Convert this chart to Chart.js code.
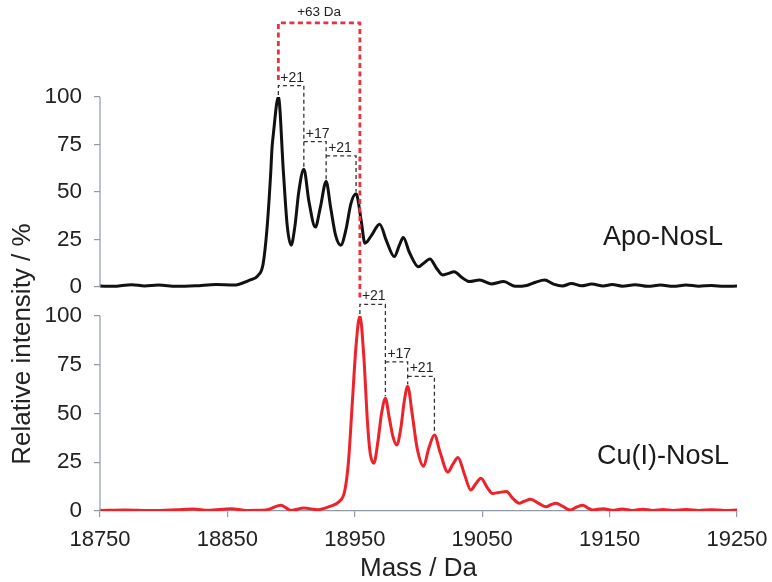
<!DOCTYPE html>
<html><head><meta charset="utf-8">
<script src="https://cdn.jsdelivr.net/npm/chart.js@4.4.0/dist/chart.umd.min.js"></script>
<style>html,body{margin:0;padding:0;background:#fff}canvas{display:block}</style>
</head><body>
<canvas id="c" width="772" height="582"></canvas>
<script>
// ---- data ----
const massApo = [18750,18760,18775,18785,18796,18810,18825,18841,18855,18867,18874,18878,18881,18884,18885,18886,18890,18894,18897,18900,18903,18906,18910,18914,18919,18923,18927.5,18931,18935,18939,18943,18947,18951,18955,18958,18963,18969.5,18975,18981,18985,18988,18993,19000,19004,19009,19014,19019,19023,19028,19034,19040,19048,19057,19067,19076,19085,19092,19099,19106,19113,19120,19128,19136,19145,19152,19160,19170,19180,19190,19200,19210,19220,19230,19240,19250];
const intApo  = [0.5,0.3,1.2,0.5,1.0,0.3,0.6,1.3,1.0,3.5,6,12,30,60,73,80,100,60,32,22,32,50,62,45,31.5,42,55.5,42,27,22,30,44,49,35,23,27,33,24,16,22,26,18,10.6,12.5,14.7,10,6.3,7,8,5,2.8,3.7,1.6,2.8,0.3,0.8,2.5,3.6,1.5,0.5,1.8,0.6,1.5,0.5,1.3,0.4,1.2,0.3,1.0,0.3,1.0,0.4,0.8,0.3,0.5];
const massCu  = [18750,18770,18790,18810,18823,18835,18853,18865,18880,18892,18900,18910,18921,18931,18938,18942,18945,18948,18951,18954,18957,18960,18962,18965,18968,18971,18974,18977,18980,18983,18986,18989,18991.5,18995,18999,19004,19008,19012.5,19017,19023,19027,19031,19036,19041,19045,19049,19054,19058,19063,19069,19074,19079,19083,19088,19094,19100,19104,19108,19113,19119,19124,19129,19133,19137,19145,19152,19160,19168,19176,19184,19192,19200,19210,19220,19230,19240,19250];
const intCu   = [0.3,0.5,0.2,0.6,1.0,0.4,1.2,0.3,0.5,3.0,0.3,1.5,0.7,2.5,5,10,25,55,85,100,80,45,30,24.5,35,50,57.8,48,38,33.8,42,57,64,50,32,23,32,39,30,20,24,27.5,19,10.8,14,16.8,12,9,9.5,10,6.5,4,5,6,4,2.2,3.2,4,2.5,0.5,2,3,1.5,0.5,1.2,0.4,1.0,0.3,0.9,0.3,0.8,0.3,0.8,0.3,0.7,0.3,0.5];

const xTickValues = [18750,18850,18950,19050,19150,19250];
const yTickValues = [0,25,50,75,100];

const apoPeakMass = [18890, 18910, 18927.5, 18951];
const apoPeakInt  = [100, 62, 55.5, 49];
const cuPeakMass  = [18954, 18974, 18991.5, 19012.5];
const cuPeakInt   = [100, 57.8, 64, 39];
const shiftLabels = ['+21', '+17', '+21'];
const bracketLevels = [106, 76.5, 69];
const totalShiftLabel = '+63 Da';
const totalShiftLevel = 139;
const totalShiftEndLevel = 109;

const seriesNames = ['Apo-NosL', 'Cu(I)-NosL'];
const seriesNameMass = 19192;
const seriesNameLevel = [26, 28];
const xTitle = 'Mass / Da';
const yTitle = 'Relative intensity / %';

// ---- chart ----
const FONT = "'Liberation Sans', Arial, Helvetica, sans-serif";
Chart.defaults.font.family = FONT;
const AXIS = '#8e9ba6';
const TXT = '#222222';

const toPts = (xs, ys) => xs.map((m, i) => ({x: m, y: ys[i]}));

const annot = {
  id: 'annot',
  afterDatasetsDraw(chart) {
    const {ctx, scales} = chart;
    const x = scales.x, yT = scales.yTop, yB = scales.yBot;
    const left = chart.chartArea.left;
    ctx.save();
    // y axis lines (0..100) for each panel
    ctx.strokeStyle = AXIS; ctx.lineWidth = 1.2; ctx.setLineDash([]);
    [yT, yB].forEach(s => {
      ctx.beginPath();
      ctx.moveTo(left, s.getPixelForValue(0));
      ctx.lineTo(left, s.getPixelForValue(100));
      ctx.stroke();
    });
    // black dashed brackets
    function brackets(ys, pm, pi) {
      ctx.strokeStyle = '#333'; ctx.lineWidth = 1.3; ctx.setLineDash([4, 3]);
      ctx.fillStyle = TXT; ctx.font = '14px ' + FONT; ctx.textAlign = 'left'; ctx.textBaseline = 'alphabetic';
      for (let i = 0; i < pm.length - 1; i++) {
        const x1 = x.getPixelForValue(pm[i]), x2 = x.getPixelForValue(pm[i + 1]);
        const yl = ys.getPixelForValue(bracketLevels[i]);
        ctx.beginPath();
        if (i === 0) { ctx.moveTo(x1, ys.getPixelForValue(pi[i]) - 2); ctx.lineTo(x1, yl); }
        else ctx.moveTo(x1, yl);
        ctx.lineTo(x2, yl);
        ctx.lineTo(x2, ys.getPixelForValue(pi[i + 1]) - 2);
        ctx.stroke();
        ctx.fillText(shiftLabels[i], x1 + 2, yl - 4);
      }
    }
    brackets(yT, apoPeakMass, apoPeakInt);
    brackets(yB, cuPeakMass, cuPeakInt);
    // red +63 bracket
    const xl = x.getPixelForValue(apoPeakMass[0]), xr = x.getPixelForValue(cuPeakMass[0]);
    const ytop = yT.getPixelForValue(totalShiftLevel);
    ctx.strokeStyle = '#e8323f'; ctx.lineWidth = 2.8; ctx.setLineDash([5, 3.5]); ctx.lineJoin = 'round';
    ctx.beginPath();
    ctx.moveTo(xl, yT.getPixelForValue(totalShiftEndLevel));
    ctx.lineTo(xl, ytop); ctx.lineTo(xr, ytop);
    ctx.lineTo(xr, yB.getPixelForValue(totalShiftEndLevel));
    ctx.stroke();
    ctx.setLineDash([]);
    ctx.fillStyle = TXT; ctx.font = '13.5px ' + FONT; ctx.textAlign = 'center';
    ctx.fillText(totalShiftLabel, (xl + xr) / 2, ytop - 7);
    // series names
    ctx.font = '27px ' + FONT; ctx.textBaseline = 'middle'; ctx.fillStyle = '#1a1a1a';
    const xn = x.getPixelForValue(seriesNameMass);
    ctx.fillText(seriesNames[0], xn, yT.getPixelForValue(seriesNameLevel[0]));
    ctx.fillText(seriesNames[1], xn, yB.getPixelForValue(seriesNameLevel[1]));
    // y title
    ctx.save();
    ctx.translate(23, 344); ctx.rotate(-Math.PI / 2);
    ctx.font = '26px ' + FONT; ctx.fillStyle = TXT; ctx.textAlign = 'center'; ctx.textBaseline = 'middle';
    ctx.fillText(yTitle, 0, 0);
    ctx.restore();
    ctx.restore();
  }
};

const yAxisCommon = {
  position: 'left',
  stack: 'panels',
  border: {display: false},
  grid: {drawOnChartArea: false, drawTicks: true, tickLength: 6, color: AXIS, lineWidth: 1.2},
  ticks: {color: TXT, font: {size: 22.5}, padding: 12, autoSkip: false, callback: v => String(v)},
  afterBuildTicks: s => { s.ticks = yTickValues.map(v => ({value: v})); },
  afterFit: s => { s.width = 100; s.paddingTop = 0; s.paddingBottom = 0; }
};

new Chart(document.getElementById('c'), {
  type: 'line',
  data: {
    datasets: [
      {label: seriesNames[0], data: toPts(massApo, intApo), yAxisID: 'yTop', borderColor: '#111111', borderWidth: 3,
       pointRadius: 0, cubicInterpolationMode: 'monotone', fill: false},
      {label: seriesNames[1], data: toPts(massCu, intCu), yAxisID: 'yBot', borderColor: '#ee2229', borderWidth: 3,
       pointRadius: 0, cubicInterpolationMode: 'monotone', fill: false}
    ]
  },
  options: {
    responsive: false,
    animation: false,
    layout: {padding: {top: 97, right: 35, left: 0, bottom: 0}},
    plugins: {legend: {display: false}, tooltip: {enabled: false}},
    scales: {
      x: {
        type: 'linear', min: 18750, max: 19250, position: 'bottom',
        border: {display: true, color: AXIS, width: 1.2},
        grid: {drawOnChartArea: false, drawTicks: true, tickLength: 6, color: AXIS, lineWidth: 1.2},
        ticks: {color: TXT, font: {size: 22}, padding: 10, maxRotation: 0, autoSkip: false, callback: v => String(v)},
        afterBuildTicks: s => { s.ticks = xTickValues.map(v => ({value: v})); },
        title: {display: true, text: xTitle, color: TXT, font: {size: 26, lineHeight: 1.0}, padding: {top: 0, bottom: 0}},
        afterFit: s => { s.height = 71; s.paddingLeft = 0; s.paddingRight = 0; }
      },
      yBot: Object.assign({}, yAxisCommon, {min: 0, max: 100, stackWeight: 195, weight: 0}),
      yTop: Object.assign({}, yAxisCommon, {min: -15.3, max: 100, stackWeight: 219, weight: 1})
    }
  },
  plugins: [annot]
});
</script>
</body></html>
